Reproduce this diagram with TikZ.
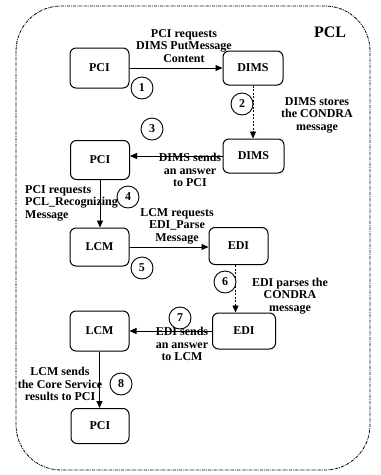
\documentclass[tikz,border=0pt]{standalone}
\usepackage{fontspec}
\setmainfont{Liberation Serif}
\usetikzlibrary{arrows.meta}
\begin{document}
\begin{tikzpicture}[x=1pt,y=-1pt,
  box/.style={draw, line width=1pt, rounded corners=6pt, inner sep=0pt, font=\bfseries\fontsize{12}{12}\selectfont},
  num/.style={draw, circle, line width=0.9pt, minimum size=22pt, inner sep=0pt, font=\bfseries\fontsize{12}{12}\selectfont, fill=white},
  lbl/.style={font=\bfseries\fontsize{12}{12.5}\selectfont, align=center, inner sep=0pt},
  arr/.style={-{Triangle[length=7pt,width=6pt]}, line width=0.9pt},
  darr/.style={arr, dash pattern=on 2pt off 1.5pt}]
\useasboundingbox (0,0) rectangle (381,475);
\draw[dash pattern=on 3pt off 1pt on 0.8pt off 1pt, line width=0.8pt, rounded corners=45pt] (16,6) rectangle (370,470);

\node[box, minimum width=59pt, minimum height=40pt] (pci1) at (99.5,68) {PCI};
\node[box, minimum width=60pt, minimum height=34pt] (dims1) at (253,68) {DIMS};
\node[box, minimum width=61pt, minimum height=34pt] (dims2) at (253.5,156) {DIMS};
\node[box, minimum width=59pt, minimum height=39pt] (pci2) at (100,160) {PCI};
\node[box, minimum width=59pt, minimum height=38pt] (lcm1) at (99.5,247) {LCM};
\node[box, minimum width=59pt, minimum height=37pt] (edi1) at (238.5,246) {EDI};
\node[box, minimum width=63pt, minimum height=36pt] (edi2) at (244,331) {EDI};
\node[box, minimum width=59pt, minimum height=40pt] (lcm2) at (99.5,331) {LCM};
\node[box, minimum width=58pt, minimum height=35pt] (pci3) at (100,426) {PCI};

\node[lbl, font=\bfseries\fontsize{16}{16}\selectfont] (pcl) at (330,32) {PCL};
\node[lbl] (l1) at (184,46) {PCI requests\\DIMS PutMessage\\Content};
\node[lbl] (l2) at (317,115) {DIMS stores\\the CONDRA\\message};
\node[lbl] (l3) at (190,170) {DIMS sends\\an answer\\to PCI};
\node[lbl, align=left, anchor=west] (l4) at (25,203) {PCI requests\\PCL\_Recognizing\\Message};
\node[lbl] (l5) at (177,226) {LCM requests\\EDI\_Parse\\Message};
\node[lbl] (l6) at (290,296) {EDI parses the\\CONDRA\\message};
\node[lbl] (l7) at (182,344) {EDI sends\\an answer\\to LCM};
\node[lbl] (l8) at (60,384) {LCM sends\\the Core Service\\results to PCI};

\draw[arr] (pci1.east) -- (pci1.east -| dims1.west);
\draw[darr] (dims1.south) -- (dims1.south |- dims2.north);
\draw[arr] (dims2.west) -- (dims2.west -| pci2.east);
\draw[arr] (pci2.south) -- (pci2.south |- lcm1.north);
\draw[arr] (lcm1.east) -- (lcm1.east -| edi1.west);
\draw[darr] ([xshift=-3pt]edi1.south) -- ([xshift=-3pt]edi1.south |- edi2.north);
\draw[arr] (edi2.west) -- (edi2.west -| lcm2.east);
\draw[arr] (lcm2.south) -- (lcm2.south |- pci3.north);

\node[num] (n1) at (142,88) {1};
\node[num] (n2) at (242,104) {2};
\node[num] (n3) at (152,129) {3};
\node[num] (n4) at (128,197) {4};
\node[num] (n5) at (142,268) {5};
\node[num] (n6) at (225,282) {6};
\node[num] (n7) at (180,318) {7};
\node[num] (n8) at (121,384) {8};
\end{tikzpicture}
\end{document}
